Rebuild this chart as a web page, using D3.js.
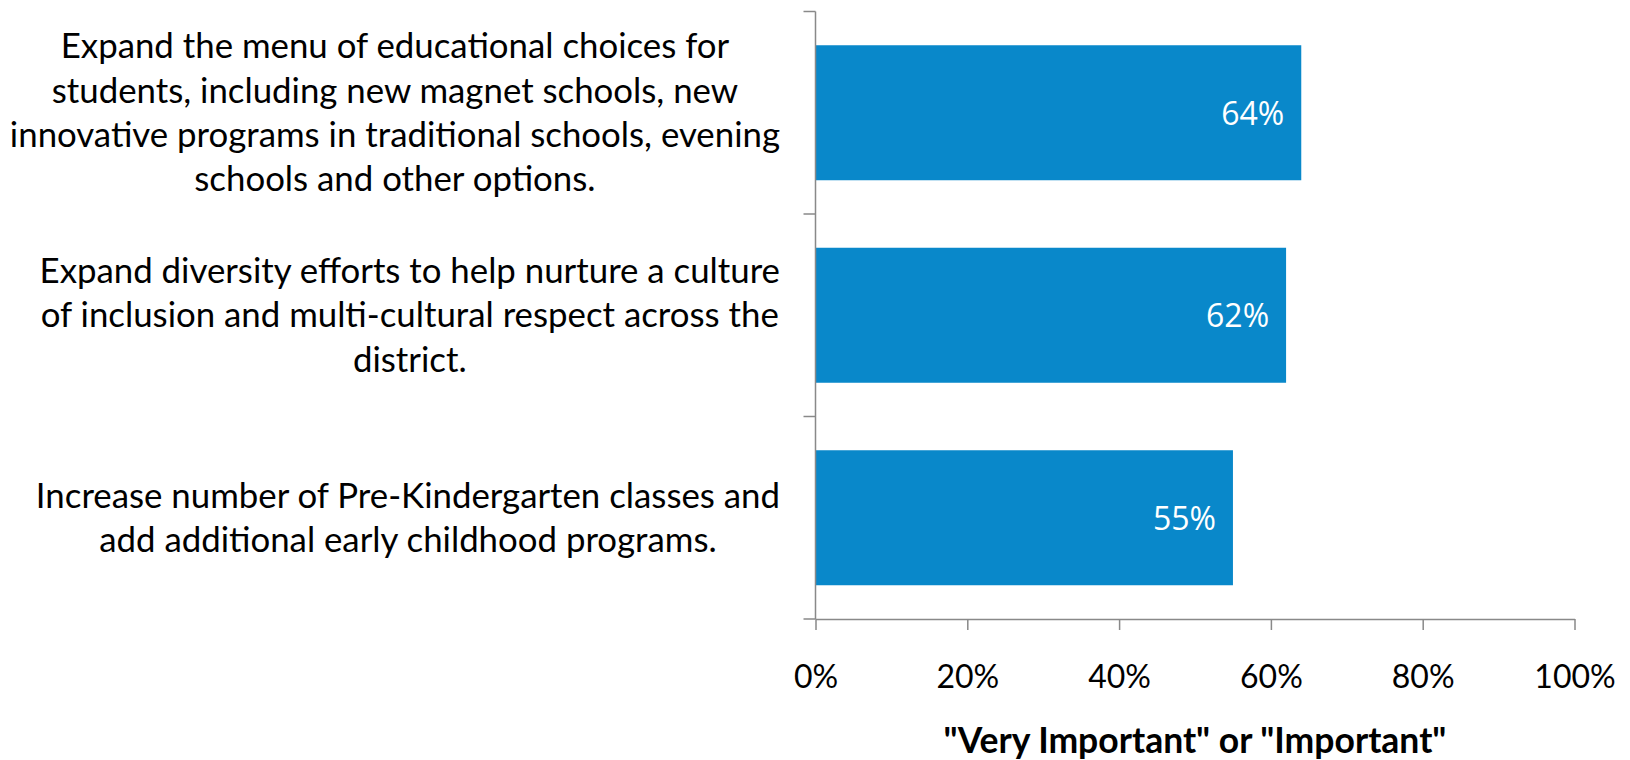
<!DOCTYPE html>
<html>
<head>
<meta charset="utf-8">
<script src="https://cdn.jsdelivr.net/npm/d3@7"></script>
<style>
    body { margin: 0; background: #fff; }
    svg { display: block; }
    .cat { font-family: Lato, "Open Sans", sans-serif; font-size: 34.8px; fill: #000; }
    .tick text { font-family: Lato, sans-serif; font-size: 32px; fill: #000; }
    .val { font-family: "Open Sans", sans-serif; font-size: 32px; fill: #fff; }
    .title { font-family: Lato, sans-serif; font-size: 35.5px; font-weight: bold; fill: #000; }
</style>
</head>
<body>
<div id="chart"></div>
<script>
// data
let categories = [
    ["Expand the menu of educational choices for", "students, including new magnet schools, new", "innovative programs in traditional schools, evening", "schools and other options."],
    ["Expand diversity efforts to help nurture a culture", "of inclusion and multi-cultural respect across the", "district."],
    ["Increase number of Pre-Kindergarten classes and", "add additional early childhood programs."]
];
let values = [64, 62, 55];
let xTicks = [0, 20, 40, 60, 80, 100];
let axisTitle = "\"Very Important\" or \"Important\"";

let width = 1630;
let height = 760;
let plot = {left: 815.5, right: 1574.5, top: 11.5, bottom: 619};
let labelRight = 780;
let barColor = "#0988ca";
let axisColor = "#898989";
let lineHeight = 44.3;

var svg = d3.select("#chart").append("svg")
    .attr("width", width)
    .attr("height", height);

var x = d3.scaleLinear()
    .domain([0, 100])
    .range([plot.left, plot.right]);

// one slot per category, bars take the middle two thirds
var slot = d3.scaleBand()
    .domain(d3.range(categories.length))
    .range([plot.top, plot.bottom]);

var bars = svg.append("g");
bars.selectAll("rect")
    .data(values)
    .join("rect")
    .attr("x", x(0))
    .attr("y", (d, i) => slot(i) + slot.bandwidth() / 6)
    .attr("width", d => x(d) - x(0))
    .attr("height", slot.bandwidth() * 2 / 3)
    .attr("fill", barColor);

bars.selectAll("text")
    .data(values)
    .join("text")
    .attr("class", "val")
    .attr("x", d => x(d) - 17)
    .attr("y", (d, i) => slot(i) + slot.bandwidth() / 2)
    .attr("dy", "0.37em")
    .attr("text-anchor", "end")
    .text(d => d + "%");

// x axis
var xAxis = svg.append("g")
    .attr("transform", `translate(0,${plot.bottom})`)
    .call(d3.axisBottom(x)
        .tickValues(xTicks)
        .tickSize(11)
        .tickSizeOuter(0)
        .tickFormat(d => d + "%"));
xAxis.select(".domain").attr("stroke", axisColor).attr("stroke-width", 1.5);
xAxis.selectAll(".tick line").attr("stroke", axisColor).attr("stroke-width", 1.5);
xAxis.selectAll(".tick text").attr("y", 69).attr("dy", 0);

// y axis: line plus ticks on slot boundaries
var yAxis = svg.append("g").attr("stroke", axisColor).attr("stroke-width", 1.5);
yAxis.append("line")
    .attr("x1", plot.left).attr("x2", plot.left)
    .attr("y1", plot.top).attr("y2", plot.bottom);
yAxis.selectAll(".yt")
    .data(slot.domain().map(slot).concat([plot.bottom]))
    .join("line")
    .attr("class", "yt")
    .attr("x1", plot.left - 12).attr("x2", plot.left)
    .attr("y1", d => d).attr("y2", d => d);

// category labels: lines centred in a box as wide as the longest line,
// box right edge sits next to the axis
var labels = svg.append("g");
var label = labels.selectAll("text")
    .data(categories)
    .join("text")
    .attr("class", "cat")
    .attr("text-anchor", "middle");

label.selectAll("tspan")
    .data(d => d)
    .join("tspan")
    .attr("x", 0)
    .attr("y", (d, i) => i * lineHeight)
    .attr("dy", "0.35em")
    .text(d => d);

label.attr("transform", function (d, i) {
    var maxW = d3.max(d3.select(this).selectAll("tspan").nodes(), n => n.getComputedTextLength());
    var cx = labelRight - maxW / 2;
    return `translate(${cx},${slot(i) + slot.bandwidth() / 2 - (d.length - 1) * lineHeight / 2})`;
});

svg.append("text")
    .attr("class", "title")
    .attr("x", (plot.left + plot.right) / 2)
    .attr("y", 753)
    .attr("text-anchor", "middle")
    .text(axisTitle);
</script>
</body>
</html>
